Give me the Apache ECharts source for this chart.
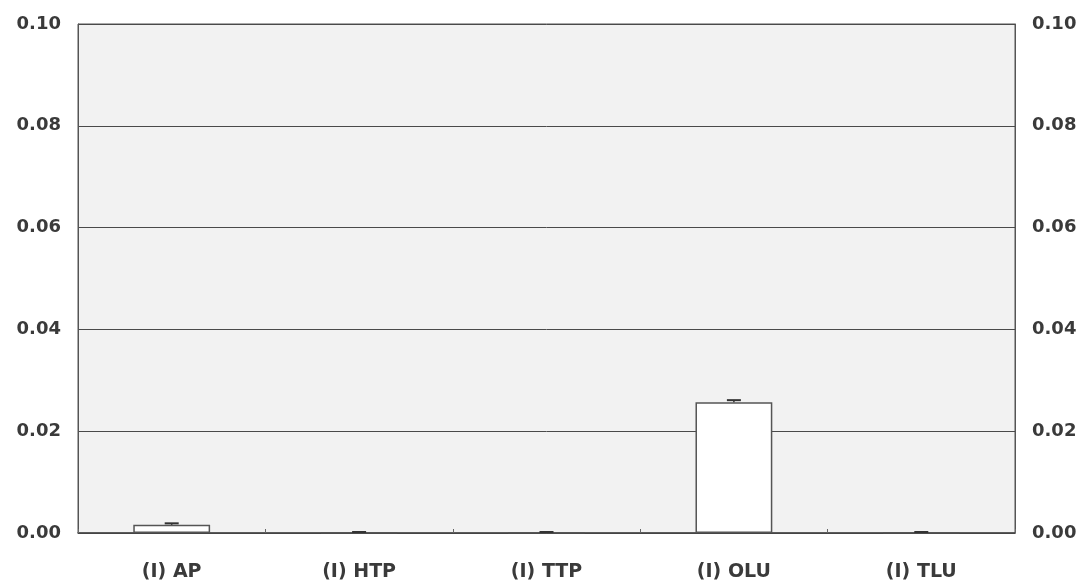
<!DOCTYPE html>
<html><head><meta charset="utf-8">
<script src="https://cdn.jsdelivr.net/npm/echarts@6/dist/echarts.min.js"></script>
<style>html,body{margin:0;padding:0;background:#fff}#c{width:1088px;height:587px}</style>
</head><body><div id="c"></div>
<script>
var categories = ['(I) AP', '(I) HTP', '(I) TTP', '(I) OLU', '(I) TLU'];
var values = [0.0016, 0.0001, 0.0001, 0.0257, 0.0001];
var errors = [0.0003, 0.0001, 0.0001, 0.0004, 0.0001];
var yTicks = [0, 0.02, 0.04, 0.06, 0.08, 0.10];

var chart = echarts.init(document.getElementById('c'));
var errData = values.map(function (v, i) { return [i, v, v + errors[i]]; });
var labelStyle = { color: '#3a3a3a', fontSize: 18, fontWeight: 'bold', fontFamily: 'DejaVu Sans, sans-serif' };
chart.setOption({
  animation: false,
  grid: { left: 78, right: 73, top: 24, bottom: 54, show: true, backgroundColor: '#f2f2f2', borderColor: '#555', borderWidth: 1 },
  xAxis: {
    type: 'category', data: categories,
    axisLine: { show: true, lineStyle: { color: '#444', width: 1.5 } },
    axisTick: { show: true, inside: true, length: 4, lineStyle: { color: '#666' } },
    axisLabel: Object.assign({ margin: 30 }, labelStyle, { fontSize: 19 })
  },
  yAxis: [{
    type: 'value', min: 0, max: 0.1, interval: 0.02, position: 'left',
    axisLine: { show: true, lineStyle: { color: '#555' } },
    axisTick: { show: false },
    splitLine: { show: true, lineStyle: { color: '#4a4a4a', width: 1 } },
    axisLabel: Object.assign({ margin: 17, formatter: function (v) { return v.toFixed(2); } }, labelStyle)
  }, {
    type: 'value', min: 0, max: 0.1, interval: 0.02, position: 'right',
    axisLine: { show: true, lineStyle: { color: '#555' } },
    axisTick: { show: false },
    splitLine: { show: false },
    axisLabel: Object.assign({ margin: 17, formatter: function (v) { return v.toFixed(2); } }, labelStyle)
  }],
  series: [{
    type: 'bar', data: values, barWidth: '41%',
    itemStyle: { color: '#ffffff', borderColor: '#555', borderWidth: 1.5 }
  }, {
    type: 'custom', data: errData, z: 5,
    renderItem: function (params, api) {
      var x = api.value(0);
      var p0 = api.coord([x, api.value(1)]);
      var p1 = api.coord([x, api.value(2)]);
      var hw = 7;
      return { type: 'group', children: [
        { type: 'line', shape: { x1: p0[0], y1: p0[1], x2: p1[0], y2: p1[1] }, style: { stroke: '#333', lineWidth: 1.5 } },
        { type: 'line', shape: { x1: p1[0] - hw, y1: p1[1], x2: p1[0] + hw, y2: p1[1] }, style: { stroke: '#333', lineWidth: 2 } }
      ]};
    }
  }]
});
</script></body></html>
